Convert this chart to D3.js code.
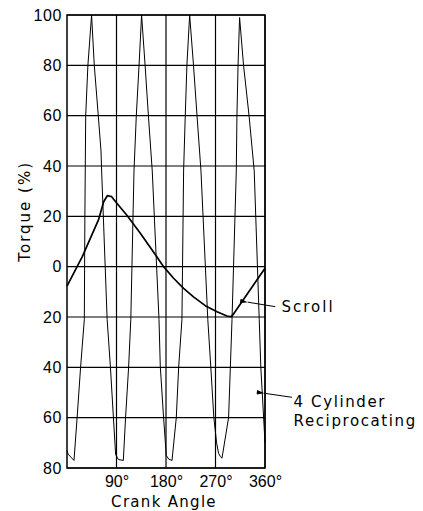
<!DOCTYPE html>
<html><head><meta charset="utf-8">
<script src="https://cdn.jsdelivr.net/npm/d3@7"></script>
<style>
html,body{margin:0;padding:0;background:#fff;}
svg{display:block;}
</style></head><body>
<script>
// ---- data ----
const angleTicks = [90, 180, 270, 360];
const angleTickLabels = ["90°", "180°", "270°", "360°"];
const torqueTicks = [100, 80, 60, 40, 20, 0, -20, -40, -60, -80];
const torqueTickLabels = ["100", "80", "60", "40", "20", "0", "20", "40", "60", "80"];

const scrollAngle  = [0, 27.8, 57.6, 66.7, 73.3, 81.2, 88.4, 108.5, 133.3, 163, 175.6, 193.8, 212, 230, 251.4, 272.7, 290.9, 298, 301.5, 339, 360];
const scrollTorque = [-7.7, 4, 18.8, 25.8, 28.2, 27.8, 25.8, 20.5, 13.3, 4, 0, -4.6, -8.6, -12, -15.5, -17.9, -19.6, -19.9, -19.2, -7.3, -0.6];

const recipAngle = [
  0, 2, 12.7, 18.4, 24.7, 31.5, 32.5, 34, 38, 44.7,
  49.6, 56.9, 61.8, 63, 73, 79, 84.4, 88.4, 93.3, 102.4,
  106.5, 112, 116, 121.8, 126, 131, 135.6,
  142, 148, 155, 167.3, 169.6, 175.6, 180.5, 185, 190.9,
  198.7, 203, 209, 212, 215, 218, 223,
  230, 236.4, 243.6, 256, 261.5, 267, 272, 275.6, 279, 281.8,
  293.8, 297, 300, 307.8, 309, 311, 313.8,
  321, 331, 340.4, 349.5, 352.4, 357.5, 360
];
const recipTorque = [
  -73, -74.5, -77, -60, -40, -21, 20, 60, 80, 100,
  80, 60, 46, 38, -21, -40, -60, -74.6, -76.6, -77,
  -60, -40, -21, 38, 60, 80, 100,
  80, 60, 38, -21, -39.5, -60, -75, -76.5, -77,
  -60, -40, -21, 38, 60, 80, 100,
  80, 60, 38, -21, -40, -60, -70, -74.2, -75.5, -76.1,
  -60, -40, -21, 38, 60, 80, 99,
  80, 60, 38, -21, -40, -60, -70
];

const annotationLabels = [["Scroll"], ["4 Cylinder", "Reciprocating"]];
const annotationTip   = [[328.4, -14.1], [358.7, -50.3]];
const annotationTail  = [[378.7, -15.9], [409, -51.9]];
const annotationText  = [[390, -15.9], [412, -55.6]];

// ---- layout ----
const W = 423, H = 511;
const x = d3.scaleLinear().domain([0, 360]).range([67, 265]);
const y = d3.scaleLinear().domain([-80, 100]).range([468, 15]);

const svg = d3.select("body").append("svg").attr("width", W).attr("height", H);

const numFont = "'Liberation Sans Narrow', 'Liberation Sans', Arial, sans-serif";
const wordFont = "'DejaVu Sans', sans-serif";

// grid
svg.append("g").selectAll("line").data(torqueTicks).join("line")
  .attr("x1", x(0)).attr("x2", x(360))
  .attr("y1", d => y(d)).attr("y2", d => y(d))
  .attr("stroke", "#000").attr("stroke-width", 1.2);
svg.append("g").selectAll("line").data(angleTicks).join("line")
  .attr("x1", d => x(d)).attr("x2", d => x(d))
  .attr("y1", y(100)).attr("y2", y(-80))
  .attr("stroke", "#000").attr("stroke-width", 1.2);

// frame
svg.append("rect").attr("x", x(0)).attr("y", y(100))
  .attr("width", x(360) - x(0)).attr("height", y(-80) - y(100))
  .attr("fill", "none").attr("stroke", "#000").attr("stroke-width", 1.5);

// axes
const yAxis = svg.append("g").attr("transform", `translate(${x(0)},0)`)
  .call(d3.axisLeft(y).tickValues(torqueTicks).tickFormat((d, i) => torqueTickLabels[i]).tickSize(0).tickPadding(5));
yAxis.select(".domain").remove();
yAxis.selectAll("text").attr("font-family", numFont).attr("font-size", 16).attr("fill", "#000")
  .attr("letter-spacing", 0.6);

const xAxis = svg.append("g").attr("transform", `translate(0,${y(-80)})`)
  .call(d3.axisBottom(x).tickValues(angleTicks).tickFormat((d, i) => angleTickLabels[i]).tickSize(0));
xAxis.select(".domain").remove();
xAxis.selectAll("text").attr("font-family", numFont).attr("font-size", 16).attr("fill", "#000")
  .attr("y", 19).attr("dy", 0);

// axis titles
svg.append("text").attr("x", (x(0) + x(360)) / 2 - 2).attr("y", 507)
  .attr("text-anchor", "middle").attr("font-family", wordFont).attr("font-size", 15)
  .attr("letter-spacing", 1.3).text("Crank Angle");
svg.append("text").attr("transform", `translate(29.5,${y(22)}) rotate(-90)`)
  .attr("text-anchor", "middle").attr("font-family", wordFont).attr("font-size", 15)
  .attr("letter-spacing", 2).text("Torque (%)");

// series
const recipData = recipAngle.map((a, i) => [a, recipTorque[i]]);
const scrollData = scrollAngle.map((a, i) => [a, scrollTorque[i]]);
const line = d3.line().x(d => x(d[0])).y(d => y(d[1]));

svg.append("path").datum(recipData).attr("d", line)
  .attr("fill", "none").attr("stroke", "#000").attr("stroke-width", 1).attr("stroke-linejoin", "round");
svg.append("path").datum(scrollData).attr("d", line)
  .attr("fill", "none").attr("stroke", "#000").attr("stroke-width", 1.7).attr("stroke-linejoin", "round");

// annotations
svg.append("defs").append("marker").attr("id", "ah")
  .attr("viewBox", "0 0 10 6").attr("refX", 0).attr("refY", 3)
  .attr("markerWidth", 9).attr("markerHeight", 4.5).attr("orient", "auto-start-reverse")
  .attr("markerUnits", "userSpaceOnUse")
  .append("path").attr("d", "M0,3 L10,0 L10,6 Z").attr("fill", "#000");

const annotationSpacing = [2, 1.6];
annotationLabels.forEach((lines, i) => {
  svg.append("line")
    .attr("x1", x(annotationTip[i][0])).attr("y1", y(annotationTip[i][1]))
    .attr("x2", x(annotationTail[i][0])).attr("y2", y(annotationTail[i][1]))
    .attr("stroke", "#000").attr("stroke-width", 1)
    .attr("marker-start", "url(#ah)");
  const t = svg.append("text").attr("font-family", wordFont).attr("font-size", 15)
    .attr("letter-spacing", annotationSpacing[i]);
  lines.forEach((s, j) => {
    t.append("tspan").attr("x", x(annotationText[i][0]))
      .attr("y", y(annotationText[i][1]) + j * 19)
      .attr("dy", lines.length === 1 ? "0.36em" : 0)
      .text(s);
  });
});
</script>
</body></html>
